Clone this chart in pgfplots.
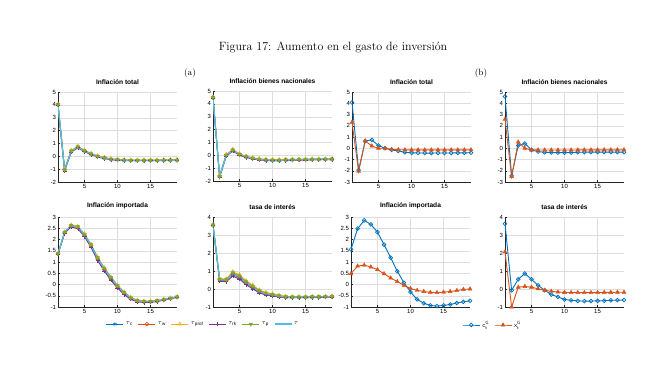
\documentclass[border=0pt]{standalone}
\usepackage{fontspec}
\usepackage{pgfplots}
\pgfplotsset{compat=1.18}
\usepackage{pgfplotstable}
\newfontfamily\hv{Liberation Sans}
\definecolor{mblue}{rgb}{0,0.447,0.741}
\definecolor{morange}{rgb}{0.85,0.325,0.098}
\definecolor{myellow}{rgb}{0.929,0.694,0.125}
\definecolor{mpurple}{rgb}{0.494,0.184,0.556}
\definecolor{mgreen}{rgb}{0.466,0.674,0.188}
\definecolor{mcyan}{rgb}{0.301,0.745,0.933}

\pgfplotstableread{
x c w prof rk p t
1 4.02 4.00 4.05 3.98 4.03 4.02
2 -1.08 -1.02 -1.00 -1.15 -1.05 -1.06
3 0.38 0.42 0.45 0.33 0.41 0.40
4 0.70 0.74 0.78 0.66 0.73 0.72
5 0.40 0.44 0.47 0.36 0.43 0.42
6 0.16 0.20 0.22 0.12 0.19 0.18
7 -0.02 0.01 0.03 -0.05 0.00 0.00
8 -0.15 -0.12 -0.10 -0.18 -0.13 -0.13
9 -0.24 -0.21 -0.19 -0.27 -0.22 -0.22
10 -0.29 -0.26 -0.24 -0.31 -0.27 -0.27
11 -0.32 -0.29 -0.27 -0.33 -0.30 -0.30
12 -0.33 -0.31 -0.29 -0.34 -0.32 -0.32
13 -0.33 -0.31 -0.29 -0.34 -0.32 -0.32
14 -0.33 -0.31 -0.29 -0.34 -0.32 -0.32
15 -0.33 -0.31 -0.29 -0.34 -0.32 -0.32
16 -0.33 -0.31 -0.29 -0.34 -0.32 -0.32
17 -0.32 -0.30 -0.28 -0.33 -0.31 -0.31
18 -0.32 -0.30 -0.28 -0.33 -0.31 -0.31
19 -0.31 -0.29 -0.27 -0.32 -0.30 -0.30
}\tA
\pgfplotstableread{
x c w prof rk p t
1 4.50 4.48 4.52 4.46 4.50 4.50
2 -1.66 -1.62 -1.58 -1.72 -1.64 -1.65
3 -0.02 0.02 0.06 -0.07 0.01 0.00
4 0.38 0.42 0.47 0.33 0.41 0.40
5 0.04 0.08 0.12 0.00 0.07 0.06
6 -0.14 -0.10 -0.07 -0.17 -0.11 -0.12
7 -0.26 -0.22 -0.19 -0.29 -0.23 -0.24
8 -0.34 -0.30 -0.27 -0.36 -0.31 -0.32
9 -0.39 -0.35 -0.32 -0.41 -0.36 -0.37
10 -0.41 -0.37 -0.34 -0.42 -0.38 -0.39
11 -0.41 -0.37 -0.34 -0.42 -0.38 -0.39
12 -0.39 -0.35 -0.33 -0.40 -0.36 -0.37
13 -0.37 -0.34 -0.32 -0.38 -0.35 -0.35
14 -0.36 -0.33 -0.31 -0.37 -0.34 -0.34
15 -0.35 -0.32 -0.30 -0.36 -0.33 -0.33
16 -0.34 -0.31 -0.29 -0.35 -0.32 -0.32
17 -0.33 -0.30 -0.28 -0.34 -0.31 -0.31
18 -0.33 -0.30 -0.28 -0.34 -0.31 -0.31
19 -0.32 -0.29 -0.27 -0.33 -0.30 -0.30
}\tB
\pgfplotstableread{
x c w prof rk p t
1 1.37 1.36 1.38 1.35 1.38 1.37
2 2.31 2.30 2.34 2.27 2.33 2.32
3 2.61 2.60 2.64 2.56 2.63 2.62
4 2.54 2.53 2.58 2.48 2.57 2.55
5 2.19 2.19 2.25 2.13 2.23 2.21
6 1.71 1.72 1.79 1.65 1.77 1.74
7 1.13 1.14 1.21 1.06 1.19 1.16
8 0.67 0.68 0.75 0.60 0.73 0.70
9 0.26 0.27 0.34 0.19 0.32 0.29
10 -0.10 -0.09 -0.03 -0.16 -0.05 -0.07
11 -0.40 -0.39 -0.33 -0.45 -0.35 -0.37
12 -0.62 -0.61 -0.57 -0.66 -0.59 -0.60
13 -0.74 -0.73 -0.70 -0.77 -0.71 -0.72
14 -0.77 -0.77 -0.74 -0.80 -0.75 -0.76
15 -0.77 -0.77 -0.74 -0.79 -0.75 -0.76
16 -0.74 -0.74 -0.71 -0.76 -0.72 -0.73
17 -0.68 -0.68 -0.66 -0.70 -0.67 -0.67
18 -0.62 -0.62 -0.60 -0.63 -0.61 -0.61
19 -0.56 -0.56 -0.54 -0.57 -0.55 -0.55
}\tC
\pgfplotstableread{
x c w prof rk p t
1 3.55 3.54 3.57 3.53 3.56 3.55
2 0.50 0.54 0.58 0.44 0.55 0.52
3 0.46 0.50 0.56 0.40 0.52 0.48
4 0.80 0.86 0.96 0.72 0.90 0.83
5 0.63 0.69 0.79 0.55 0.73 0.66
6 0.31 0.37 0.46 0.24 0.40 0.34
7 0.07 0.13 0.21 0.01 0.16 0.10
8 -0.17 -0.11 -0.05 -0.22 -0.09 -0.14
9 -0.29 -0.25 -0.19 -0.33 -0.23 -0.27
10 -0.35 -0.31 -0.27 -0.38 -0.30 -0.33
11 -0.42 -0.39 -0.35 -0.44 -0.37 -0.40
12 -0.47 -0.44 -0.41 -0.48 -0.43 -0.45
13 -0.47 -0.45 -0.43 -0.48 -0.44 -0.46
14 -0.47 -0.45 -0.43 -0.48 -0.44 -0.46
15 -0.47 -0.45 -0.43 -0.48 -0.44 -0.46
16 -0.46 -0.44 -0.42 -0.47 -0.43 -0.45
17 -0.46 -0.44 -0.42 -0.47 -0.43 -0.45
18 -0.45 -0.43 -0.41 -0.46 -0.42 -0.44
19 -0.44 -0.42 -0.40 -0.45 -0.41 -0.43
}\tD
\pgfplotstableread{
x c xg
1 4.06 2.31
2 -1.95 -2.05
3 0.65 0.65
4 0.74 0.20
5 0.24 0.00
6 0.00 0.00
7 -0.15 -0.10
8 -0.24 -0.13
9 -0.36 -0.14
10 -0.41 -0.15
11 -0.42 -0.15
12 -0.43 -0.15
13 -0.43 -0.15
14 -0.42 -0.15
15 -0.42 -0.15
16 -0.42 -0.14
17 -0.41 -0.14
18 -0.41 -0.14
19 -0.40 -0.14
}\tE
\pgfplotstableread{
x c xg
1 4.60 2.58
2 -2.45 -2.52
3 0.25 0.55
4 0.42 0.00
5 -0.15 -0.15
6 -0.30 -0.15
7 -0.36 -0.16
8 -0.38 -0.16
9 -0.39 -0.16
10 -0.39 -0.16
11 -0.38 -0.16
12 -0.36 -0.15
13 -0.35 -0.15
14 -0.34 -0.15
15 -0.34 -0.15
16 -0.34 -0.14
17 -0.34 -0.14
18 -0.34 -0.14
19 -0.35 -0.14
}\tF
\pgfplotstableread{
x c xg
1 1.56 0.48
2 2.48 0.82
3 2.85 0.86
4 2.67 0.78
5 2.33 0.66
6 1.77 0.48
7 1.19 0.29
8 0.59 0.13
9 0.08 -0.04
10 -0.33 -0.18
11 -0.66 -0.26
12 -0.83 -0.31
13 -0.93 -0.35
14 -0.96 -0.36
15 -0.93 -0.34
16 -0.89 -0.31
17 -0.82 -0.27
18 -0.77 -0.22
19 -0.72 -0.20
}\tG
\pgfplotstableread{
x c xg
1 3.63 2.06
2 -0.07 -1.00
3 0.54 0.10
4 0.86 0.14
5 0.54 0.10
6 0.20 0.01
7 -0.07 -0.07
8 -0.31 -0.13
9 -0.44 -0.17
10 -0.58 -0.19
11 -0.63 -0.20
12 -0.66 -0.20
13 -0.67 -0.20
14 -0.67 -0.20
15 -0.66 -0.20
16 -0.65 -0.19
17 -0.63 -0.19
18 -0.62 -0.18
19 -0.61 -0.18
}\tH

\pgfplotsset{
  sub/.style={
    scale only axis, width=119pt, height=90pt,
    xmin=1, xmax=19, xtick={5,10,15},
    axis x line*=bottom, axis y line*=left,
    axis line style={-, black!85, line width=0.45pt},
    grid=major, grid style={black!13, line width=0.4pt},
    tick align=inside, major tick length=2pt,
    tick style={black!85, line width=0.4pt},
    tick label style={font=\hv\fontsize{6}{7}\selectfont},
    /pgf/number format/assume math mode=true,
    yticklabel style={/pgf/number format/fixed, xshift=1.5pt},
    xticklabel style={yshift=1.5pt},
    title style={font=\hv\bfseries\fontsize{6.6}{7}\selectfont, inner sep=1.5pt},
    every axis plot/.append style={line width=0.9pt},
    legend style={draw=none, fill=none, font=\hv\fontsize{6.5}{7.5}\selectfont,
      legend columns=-1, anchor=center,
      /tikz/every even column/.append style={column sep=3pt}},
  },
  sc/.style={color=mblue, mark=asterisk, mark size=2pt, mark options={line width=0.6pt}},
  sw/.style={color=morange, mark=o, mark size=1.9pt, mark options={line width=0.6pt}},
  sprof/.style={color=myellow, mark=triangle, mark size=2.1pt, mark options={line width=0.6pt}},
  srk/.style={color=mpurple, mark=+, mark size=2.1pt, mark options={line width=0.6pt}},
  sp/.style={color=mgreen, mark=triangle*, mark size=2.1pt, mark options={rotate=180, line width=0.4pt}},
  st/.style={color=mcyan, line width=1.2pt, no markers},
  bc/.style={color=mblue, mark=o, mark size=1.9pt, mark options={line width=0.7pt}},
  bx/.style={color=morange, mark=triangle*, mark size=2.3pt, mark options={line width=0.4pt}},
}

\begin{document}
\begin{tikzpicture}
\path[use as bounding box] (0,0) rectangle (666pt,377pt);
\node[font=\large] at (333pt,330pt) {Figura 17: Aumento en el gasto de inversión};
\node[font=\small] at (190pt,304pt) {(a)};
\node[font=\small] at (481pt,304pt) {(b)};

% (a) top-left
\begin{axis}[sub, at={(58pt,195pt)}, anchor=south west, title={Inflación total},
  ymin=-2, ymax=5, ytick={-2,-1,0,1,2,3,4,5}]
\addplot[sc] table[x=x,y=c]{\tA};
\addplot[sw] table[x=x,y=w]{\tA};
\addplot[sprof] table[x=x,y=prof]{\tA};
\addplot[srk] table[x=x,y=rk]{\tA};
\addplot[sp] table[x=x,y=p]{\tA};
\addplot[st] table[x=x,y=t]{\tA};
\end{axis}

% (a) top-right
\begin{axis}[sub, at={(213pt,196pt)}, anchor=south west, title={Inflación bienes nacionales},
  ymin=-2, ymax=5, ytick={-2,-1,0,1,2,3,4,5}]
\addplot[sc] table[x=x,y=c]{\tB};
\addplot[sw] table[x=x,y=w]{\tB};
\addplot[sprof] table[x=x,y=prof]{\tB};
\addplot[srk] table[x=x,y=rk]{\tB};
\addplot[sp] table[x=x,y=p]{\tB};
\addplot[st] table[x=x,y=t]{\tB};
\end{axis}

% (a) bottom-left
\begin{axis}[sub, at={(58pt,70pt)}, anchor=south west, title={Inflación importada},
  ymin=-1, ymax=3, ytick={-1,-0.5,0,0.5,1,1.5,2,2.5,3},
  legend style={at={(1.22,-0.19)}}]
\addplot[sc] table[x=x,y=c]{\tC};
\addplot[sw] table[x=x,y=w]{\tC};
\addplot[sprof] table[x=x,y=prof]{\tC};
\addplot[srk] table[x=x,y=rk]{\tC};
\addplot[sp] table[x=x,y=p]{\tC};
\addplot[st] table[x=x,y=t]{\tC};
\legend{\(\tau\)\textsubscript{c},\(\tau\)\textsubscript{w},\(\tau\)\textsubscript{prof},\(\tau\)\textsubscript{rk},\(\tau\)\textsubscript{p},\(\tau\)}
\end{axis}

% (a) bottom-right
\begin{axis}[sub, at={(213pt,70pt)}, anchor=south west, title={tasa de interés},
  ymin=-1, ymax=4, ytick={-1,0,1,2,3,4}]
\addplot[sc] table[x=x,y=c]{\tD};
\addplot[sw] table[x=x,y=w]{\tD};
\addplot[sprof] table[x=x,y=prof]{\tD};
\addplot[srk] table[x=x,y=rk]{\tD};
\addplot[sp] table[x=x,y=p]{\tD};
\addplot[st] table[x=x,y=t]{\tD};
\end{axis}

% (b) top-left
\begin{axis}[sub, at={(352pt,195pt)}, anchor=south west, title={Inflación total},
  ymin=-3, ymax=5, ytick={-3,-2,-1,0,1,2,3,4,5}]
\addplot[bc] table[x=x,y=c]{\tE};
\addplot[bx] table[x=x,y=xg]{\tE};
\end{axis}

% (b) top-right
\begin{axis}[sub, at={(505pt,195pt)}, anchor=south west, title={Inflación bienes nacionales},
  ymin=-3, ymax=5, ytick={-3,-2,-1,0,1,2,3,4,5}]
\addplot[bc] table[x=x,y=c]{\tF};
\addplot[bx] table[x=x,y=xg]{\tF};
\end{axis}

% (b) bottom-left
\begin{axis}[sub, at={(351pt,70pt)}, anchor=south west, title={Inflación importada},
  ymin=-1, ymax=3, ytick={-1,-0.5,0,0.5,1,1.5,2,2.5,3},
  legend style={at={(1.19,-0.2)}}]
\addplot[bc] table[x=x,y=c]{\tG};
\addplot[bx] table[x=x,y=xg]{\tG};
\legend{\(\mathsf{c}_{\mathsf{t}}^{\mathsf{G}}\),\(\mathsf{x}_{\mathsf{t}}^{\mathsf{G}}\)}
\end{axis}

% (b) bottom-right
\begin{axis}[sub, at={(505pt,70pt)}, anchor=south west, title={tasa de interés},
  ymin=-1, ymax=4, ytick={-1,0,1,2,3,4}]
\addplot[bc] table[x=x,y=c]{\tH};
\addplot[bx] table[x=x,y=xg]{\tH};
\end{axis}
\end{tikzpicture}
\end{document}
